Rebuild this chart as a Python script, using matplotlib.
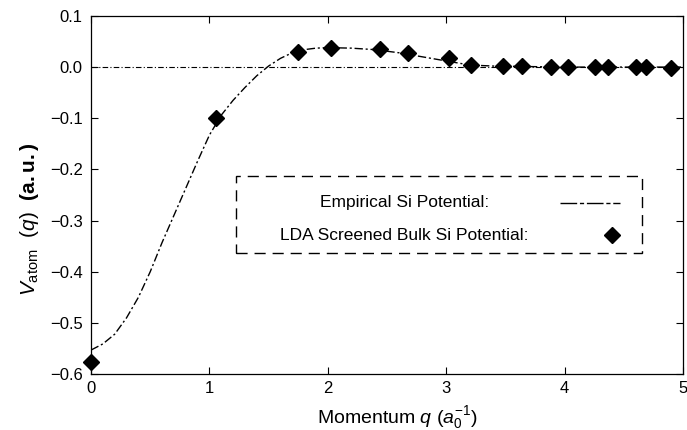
import matplotlib
matplotlib.use("Agg")
import matplotlib.pyplot as plt
from matplotlib.patches import Rectangle
from matplotlib.lines import Line2D

plt.rcParams['font.family'] = ['Liberation Sans', 'DejaVu Sans']
plt.rcParams['mathtext.fontset'] = 'custom'
plt.rcParams['mathtext.rm'] = 'Liberation Sans'
plt.rcParams['mathtext.it'] = 'Liberation Sans:italic'
plt.rcParams['mathtext.bf'] = 'Liberation Sans:bold'

# Empirical Si pseudopotential curve V(q)
emp_q = [0.0, 0.05, 0.10, 0.20, 0.30, 0.40, 0.50, 0.60, 0.70, 0.80, 0.90, 1.00,
         1.10, 1.20, 1.30, 1.40, 1.50, 1.60, 1.70, 1.80, 1.90, 2.00, 2.20, 2.40,
         2.60, 2.80, 3.00, 3.20, 3.40, 3.70, 4.00, 4.30, 4.60, 5.00]
emp_v = [-0.553, -0.547, -0.541, -0.522, -0.490, -0.450, -0.400, -0.343, -0.290,
         -0.237, -0.184, -0.133, -0.094, -0.065, -0.040, -0.017, 0.002, 0.017,
         0.028, 0.034, 0.037, 0.038, 0.037, 0.034, 0.028, 0.020, 0.012, 0.004,
         0.002, 0.001, 0.0, 0.0, 0.0, 0.0]

# LDA screened bulk Si potential samples
lda_q = [0.0, 1.06, 1.75, 2.03, 2.44, 2.68, 3.02, 3.21, 3.48, 3.64, 3.89, 4.03,
         4.26, 4.37, 4.60, 4.69, 4.90]
lda_v = [-0.577, -0.099, 0.030, 0.037, 0.035, 0.028, 0.017, 0.005, 0.003, 0.002,
         0.001, 0.001, 0.0, 0.0, 0.0, 0.0, -0.001]

xticks = [0, 1, 2, 3, 4, 5]
yticks = [0.1, 0.0, -0.1, -0.2, -0.3, -0.4, -0.5, -0.6]
ytick_labels = ['0.1', '0.0', '\u22120.1', '\u22120.2', '\u22120.3', '\u22120.4',
                '\u22120.5', '\u22120.6']

fig = plt.figure(figsize=(6.87, 4.30), dpi=100)
ax = fig.add_axes([0.1325, 0.130, 0.8615, 0.833])

ax.axhline(0.0, color='black', lw=0.8, ls=(0, (5, 2, 1, 2)), zorder=1)
ax.plot(emp_q, emp_v, color='black', lw=1.0, ls=(0, (6, 2, 1.5, 2)), zorder=2)
ax.plot(lda_q, lda_v, ls='none', marker='D', ms=8, color='black', zorder=3,
        clip_on=False)

ax.set_xlim(0, 5)
ax.set_ylim(-0.6, 0.1)
ax.set_xticks(xticks)
ax.set_xticklabels([str(t) for t in xticks], fontsize=12)
ax.set_yticks(yticks)
ax.set_yticklabels(ytick_labels, fontsize=12)
ax.tick_params(direction='in', length=5, width=0.8, top=True, right=True)
ax.tick_params(axis='x', pad=5)
ax.tick_params(axis='y', pad=6)
for s in ax.spines.values():
    s.set_linewidth(0.9)

ax.set_xlabel(r'Momentum $\mathit{q}$ ($\mathit{a}_0^{-1}$)', fontsize=14)
ax.xaxis.set_label_coords(0.517, -0.085)
ax.set_ylabel(r'$\mathit{V}_{\mathrm{atom}}$  $(\mathit{q})$  $\mathbf{(a.u.)}$',
              fontsize=15)
ax.yaxis.set_label_coords(-0.085, 0.433)

# Legend drawn in axes coordinates
box = Rectangle((0.245, 0.339), 0.686, 0.215, transform=ax.transAxes,
                fill=True, facecolor='white', edgecolor='black', lw=1.0,
                ls=(0, (8, 5)), zorder=4)
ax.add_patch(box)
ax.text(0.53, 0.479, 'Empirical Si Potential:', transform=ax.transAxes,
        ha='center', va='center', fontsize=12.5, zorder=5)
ax.text(0.53, 0.388, 'LDA Screened Bulk Si Potential:', transform=ax.transAxes,
        ha='center', va='center', fontsize=12.5, zorder=5)
ax.add_line(Line2D([0.792, 0.893], [0.479, 0.479], transform=ax.transAxes,
                   color='black', lw=1.0, ls=(0, (12, 2, 3, 2)), zorder=5))
ax.add_line(Line2D([0.880], [0.388], transform=ax.transAxes, marker='D', ms=8,
                   color='black', ls='none', zorder=5))

fig.savefig('out.png', dpi=100)
